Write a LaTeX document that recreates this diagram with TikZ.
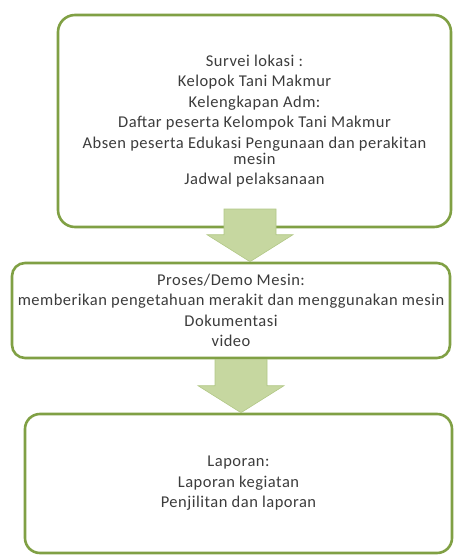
\documentclass[tikz,border=0pt]{standalone}
\usepackage{fontspec}
\setmainfont[LetterSpace=3]{Carlito}
\usetikzlibrary{positioning, calc}
\definecolor{boxgreen}{RGB}{128, 160, 68}
\definecolor{arrowgreen}{RGB}{198, 215, 160}
\definecolor{arrowedge}{RGB}{178, 200, 135}
\definecolor{textgray}{RGB}{60, 60, 60}
\newcommand{\fatarrow}[2]{%
  \filldraw[arrowfill] let \p1=(#1), \p2=(#2) in
    (\x1-26pt,\y1) -- (\x1+26pt,\y1) -- (\x1+26pt,\y2+27pt) -- (\x1+43pt,\y2+27pt)
    -- (\x1,\y2) -- (\x1-43pt,\y2+27pt) -- (\x1-26pt,\y2+27pt) -- cycle;}

\begin{document}
\begin{tikzpicture}[
        x=1pt, y=-1pt,
        block/.style={draw=boxgreen, line width=2.6pt, rounded corners=17pt, fill=white,
            align=center, text=textgray, inner sep=0pt,
            font=\fontsize{16.5}{16}\selectfont},
        arrowfill/.style={fill=arrowgreen, draw=arrowedge, line width=0.6pt}
    ]
        \useasboundingbox (0,0) rectangle (454,556);

        % Boxes
        \node[block, minimum width=393pt, minimum height=212pt] (survei) at (254.5,121) {
            Survei lokasi :\\[4.5pt]
            Kelopok Tani Makmur\\[4.5pt]
            Kelengkapan Adm:\\[4.5pt]
            Daftar peserta Kelompok Tani Makmur\\[4.5pt]
            Absen peserta Edukasi Pengunaan dan perakitan\\
            mesin\\[4.5pt]
            Jadwal pelaksanaan
        };
        \node[block, minimum width=438pt, minimum height=95pt, rounded corners=13pt] (demo) at (231,310.5) {
            Proses/Demo Mesin:\\[4.5pt]
            memberikan pengetahuan merakit dan menggunakan mesin\\[4.5pt]
            Dokumentasi\\[4.5pt]
            video
        };
        \node[block, minimum width=427pt, minimum height=139pt, rounded corners=15pt] (laporan) at (238.5,483.5) {
            Laporan:\\[4.5pt]
            Laporan kegiatan\\[4.5pt]
            Penjilitan dan laporan
        };

        % Arrows
        \coordinate (a1top) at (250,209);
        \coordinate (a2top) at ($(demo.south)+(10,0)$);
        \fatarrow{a1top}{a1top |- demo.north}
        \fatarrow{a2top}{a2top |- laporan.north}
    \end{tikzpicture}
\end{document}
